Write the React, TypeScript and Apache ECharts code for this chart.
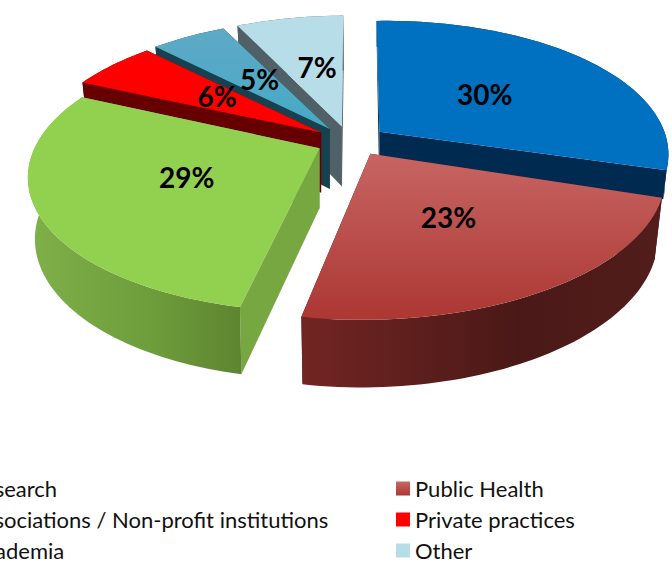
import React, { useEffect, useRef } from "react";
import * as echarts from "echarts";

const categories = ["Research", "Public Health", "Associations / Non-profit institutions", "Private practices", "Academia", "Other"];
const shares = [30, 23, 29, 6, 5, 7];
const legendLeft = ["Research", "Associations / Non-profit institutions", "Academia"];
const legendRight = ["Public Health", "Private practices", "Other"];

const grad = (x2: number, y2: number, a: string, b: string, c?: string) => ({
  type: "linear", x: 0, y: 0, x2, y2,
  colorStops: c
    ? [{ offset: 0, color: a }, { offset: 0.6, color: b }, { offset: 1, color: c }]
    : [{ offset: 0, color: a }, { offset: 1, color: b }],
});
const topFills: any[] = ["#0070c0", grad(0, 1, "#c76563", "#ac3733"), "#92d050", "#ff0000", grad(0, 1, "#5fa9c6", "#45aac6"), "#b7dde8"];
const radialWalls = ["#002a50", "#4e1b19", "#76a740", "#660000", "#17414f", "#4f6066"];
const outerWalls: any[] = [
  "#002a50",
  grad(1, 0, "#722523", "#4a1917", "#521d1b"),
  grad(1, 0, "#7fb049", "#6d9c3b", "#5e8431"),
  "#660000", "#17414f", "#4f6066",
];
const paintRank = [3, 5, 4, 2, 1, 0];
const labelReach = [0.52, 0.44, 0.47, 0.5, 0.51, 0.54];
const labelShift = [[-1, 2], [-1, 6], [-2, -2], [1, -1], [2, -1], [5, 1]];
const wallShare = [0.47, 1, 1, 1, 1, 1];
const startTrim = [0, 2, 3, 1, 0, 0.5];
const endTrim = [0, 1, 1.5, 0, 0, 1];
const radiusScale = [1, 1.02, 1, 1, 1, 1];

const CX = 351, CY = 141;
const EXPLODE_X = 36, EXPLODE_Y = 15;
const RADIUS = 285, MINOR = 132, PERSPECTIVE = 0.19;
const DEPTH = 60, BOTTOM_RADIUS = 278, BOTTOM_MINOR = 138;
const ROTATION = -2, SKEW = 0.05;
const rad = (d: number) => (d * Math.PI) / 180;

function renderSlice(params: any, api: any) {
  const i = params.seriesIndex;
  const total = shares.reduce((a, b) => a + b, 0);
  const before = shares.slice(0, i).reduce((a, b) => a + b, 0);
  const value = api.value(0);
  const n0 = (before / total) * 360 + ROTATION;
  const n1 = n0 + (value / total) * 360;
  const a0 = n0 + startTrim[i];
  const a1 = n1 + endTrim[i];
  const mid = rad((n0 + n1) / 2);
  const ox = CX + EXPLODE_X * Math.sin(mid);
  const oy = CY - EXPLODE_Y * Math.cos(mid);
  const k = radiusScale[i];
  const rimTop = (deg: number) => {
    const t = rad(deg), s = k / (1 + PERSPECTIVE * Math.cos(t));
    const dy = -MINOR * Math.cos(t) * s;
    return [ox + RADIUS * Math.sin(t) * s - SKEW * dy, oy + dy];
  };
  const rimBottom = (deg: number) => {
    const t = rad(deg), s = k / (1 + PERSPECTIVE * Math.cos(t));
    const dy = -BOTTOM_MINOR * Math.cos(t) * s;
    return [ox + BOTTOM_RADIUS * Math.sin(t) * s - SKEW * dy, oy + DEPTH + dy];
  };
  const rimWall = (deg: number) => {
    const a = rimTop(deg), b = rimBottom(deg), w = wallShare[i];
    return [a[0] + (b[0] - a[0]) * w, a[1] + (b[1] - a[1]) * w];
  };
  const steps = Math.ceil((a1 - a0) / 1.5);
  const angles = Array.from({ length: steps + 1 }, (_, n) => a0 + ((a1 - a0) * n) / steps);
  const apex = [ox, oy], apexB = [ox, oy + DEPTH];
  const base = paintRank[i] * 10;
  const poly = (points: number[][], fill: any, z2: number) => ({
    type: "polygon", z2, shape: { points }, style: { fill, stroke: "none" }, silent: true,
  });
  const labelAt = rimTop((n0 + n1) / 2);
  const f = labelReach[i];
  return {
    type: "group",
    children: [
      poly([apex, rimTop(a0), rimWall(a0), apexB], radialWalls[i], base),
      poly([apex, rimTop(a1), rimWall(a1), apexB], radialWalls[i], base + 1),
      poly([...angles.map(rimTop), ...angles.slice().reverse().map(rimWall)], outerWalls[i], base + 2),
      poly([apex, ...angles.map(rimTop)], topFills[i], base + 3),
      {
        type: "text", z2: 100, silent: true,
        style: {
          x: ox + (labelAt[0] - ox) * f + labelShift[i][0], y: oy + (labelAt[1] - oy) * f - 2 + labelShift[i][1],
          text: `${value}%`, fill: "#000", align: "center", verticalAlign: "middle",
          font: "bold 28px Lato",
        },
      },
    ],
  };
}

const legendBase = {
  orient: "vertical", top: 472, height: 120, itemWidth: 14, itemHeight: 14, itemGap: 8, icon: "rect",
  selectedMode: false, textStyle: { fontFamily: "Lato", fontSize: 22, color: "#111", lineHeight: 23 },
};

export default function App() {
  const ref = useRef<HTMLDivElement>(null);
  useEffect(() => {
    document.body.style.margin = "0";
    document.body.style.overflow = "hidden";
    const chart = echarts.init(ref.current!, undefined, { renderer: "svg" });
    chart.setOption({
      animation: false,
      backgroundColor: "#fff",
      legend: [
        { ...legendBase, left: -54, data: legendLeft },
        { ...legendBase, left: 391, data: legendRight },
      ],
      series: categories.map((name, i) => ({
        type: "custom", name, coordinateSystem: "none", renderItem: renderSlice,
        data: [[shares[i]]],
        itemStyle: { color: i === 1 ? grad(0, 1, "#c76563", "#ac3733") : topFills[i] },
      })),
    });
    return () => chart.dispose();
  }, []);
  return <div ref={ref} style={{ width: 672, height: 564 }} />;
}
